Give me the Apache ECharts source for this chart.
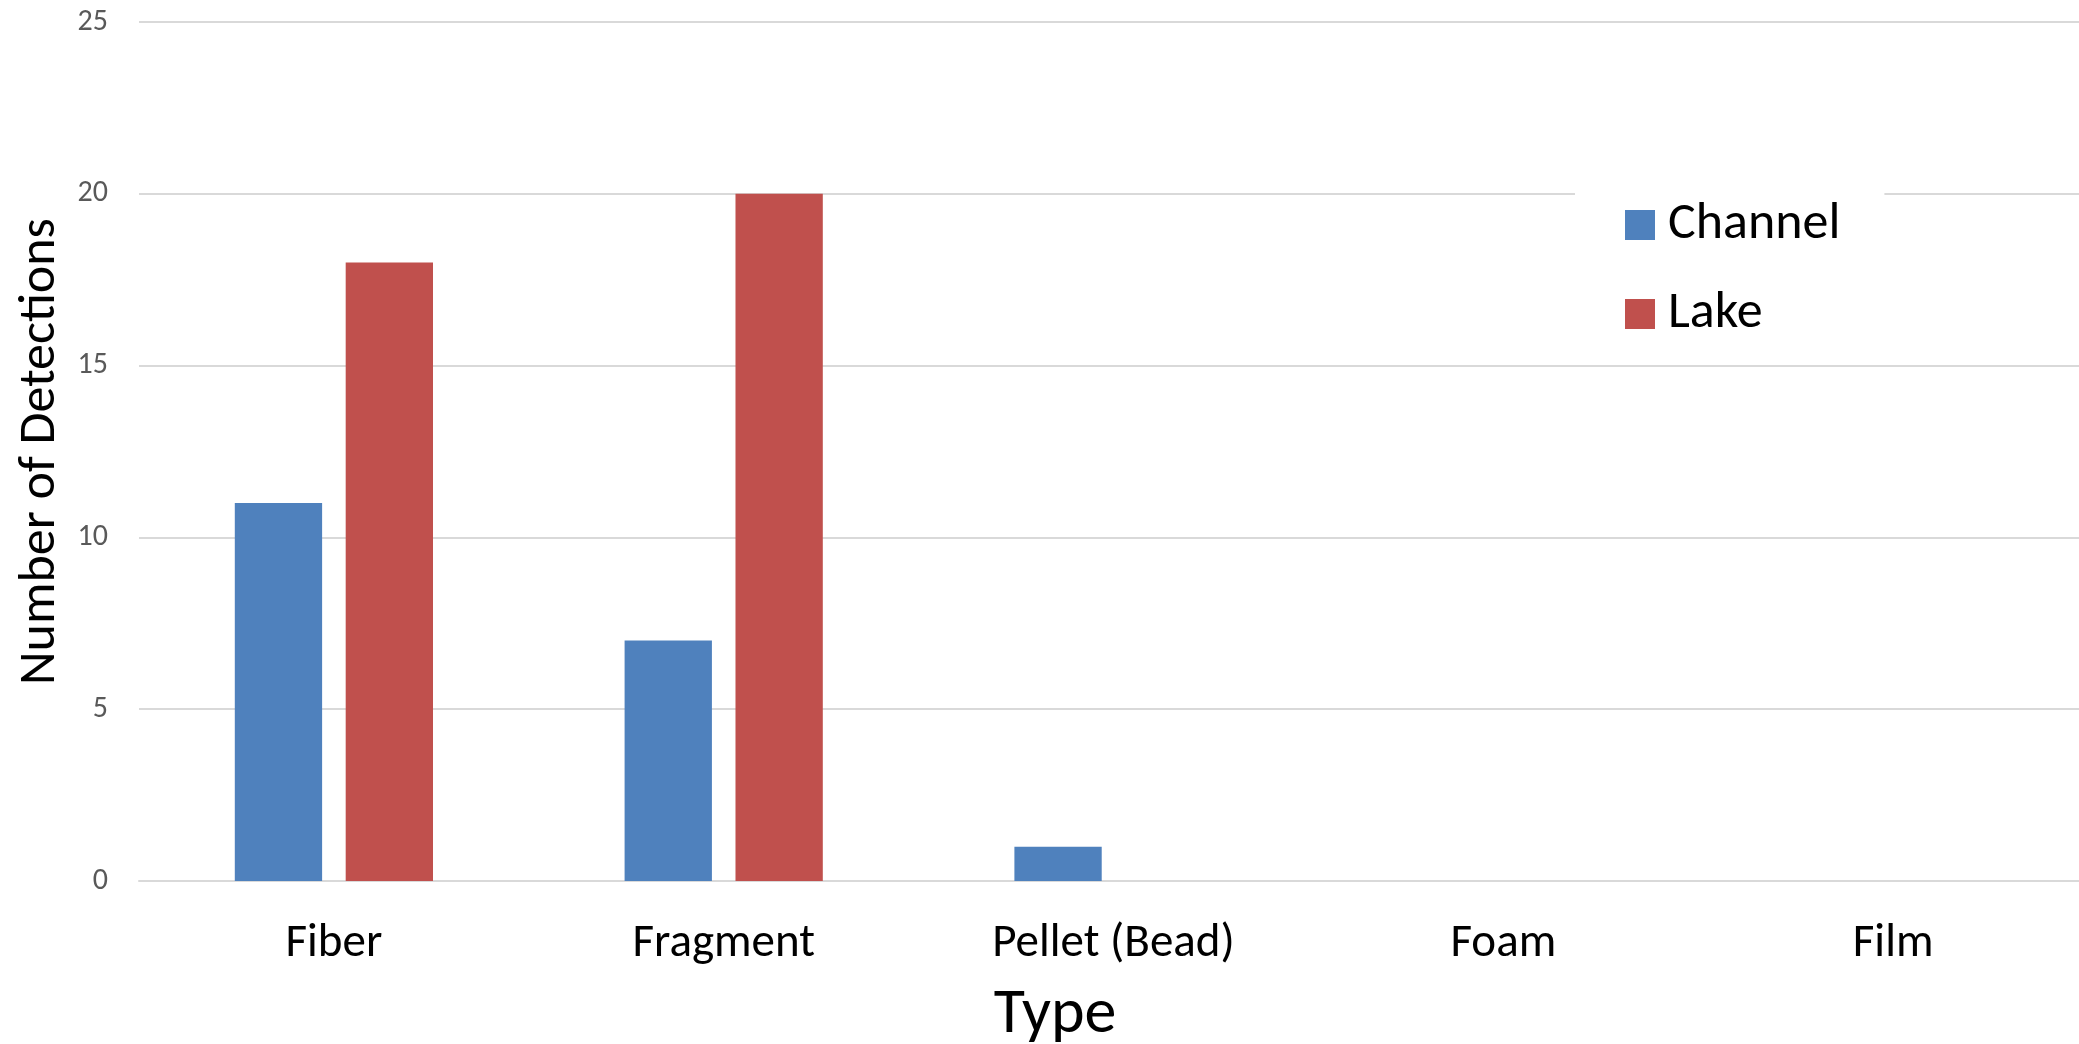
<!DOCTYPE html>
<html>
<head>
<meta charset="utf-8">
<script src="https://cdn.jsdelivr.net/npm/echarts@6/dist/echarts.min.js"></script>
<style>
  html, body { margin: 0; padding: 0; background: #ffffff; }
  #chart { width: 2079px; height: 1044px; }
</style>
</head>
<body>
<div id="chart"></div>
<script>
// Microplastic detections by particle type
const categories = ['Fiber', 'Fragment', 'Pellet (Bead)', 'Foam', 'Film'];
const channelValues = [11, 7, 1, 0, 0];
const lakeValues = [18, 20, 0, 0, 0];
const yTicks = { min: 0, max: 25, interval: 5 };

const FONT = 'Carlito, Lato, "Open Sans", sans-serif';

const chart = echarts.init(document.getElementById('chart'), null, { renderer: 'canvas' });

chart.setOption({
  backgroundColor: '#ffffff',
  animation: false,
  textStyle: { fontFamily: FONT },
  grid: { left: 139, right: -9, top: 22, bottom: 163, containLabel: false, outerBoundsMode: 'none' },
  legend: {
    orient: 'vertical',
    left: 1575,
    top: 179,
    padding: [20, 44, 15, 50],
    backgroundColor: '#ffffff',
    itemWidth: 30,
    itemHeight: 30,
    itemGap: 37,
    icon: 'rect',
    textStyle: { fontFamily: FONT, fontSize: 52, color: '#000000', lineHeight: 52, padding: [0, 0, 0, 8] },
    data: ['Channel', 'Lake']
  },
  xAxis: {
    type: 'category',
    data: categories,
    name: 'Type',
    nameLocation: 'middle',
    nameGap: 103,
    nameTextStyle: { fontFamily: FONT, fontSize: 64, color: '#000000', padding: [0, 117, 0, 0] },
    axisLine: { show: true, lineStyle: { color: '#d9d9d9', width: 2 } },
    axisTick: { show: false },
    axisLabel: { margin: 40, fontFamily: FONT, fontSize: 47, color: '#000000' },
    splitLine: { show: false }
  },
  yAxis: {
    type: 'value',
    min: yTicks.min,
    max: yTicks.max,
    interval: yTicks.interval,
    name: 'Number of Detections',
    nameLocation: 'middle',
    nameGap: 71,
    nameTextStyle: { fontFamily: FONT, fontSize: 52, color: '#000000' },
    axisLine: { show: false },
    axisTick: { show: false },
    axisLabel: { margin: 31, fontFamily: FONT, fontSize: 30, color: '#595959' },
    splitLine: { show: true, lineStyle: { color: '#d9d9d9', width: 2 } }
  },
  series: [
    {
      name: 'Channel',
      type: 'bar',
      data: channelValues,
      barWidth: '22.4%',
      barGap: '27%',
      itemStyle: { color: '#4F81BD' }
    },
    {
      name: 'Lake',
      type: 'bar',
      data: lakeValues,
      barWidth: '22.4%',
      barGap: '27%',
      itemStyle: { color: '#C0504D' }
    }
  ]
});
</script>
</body>
</html>
